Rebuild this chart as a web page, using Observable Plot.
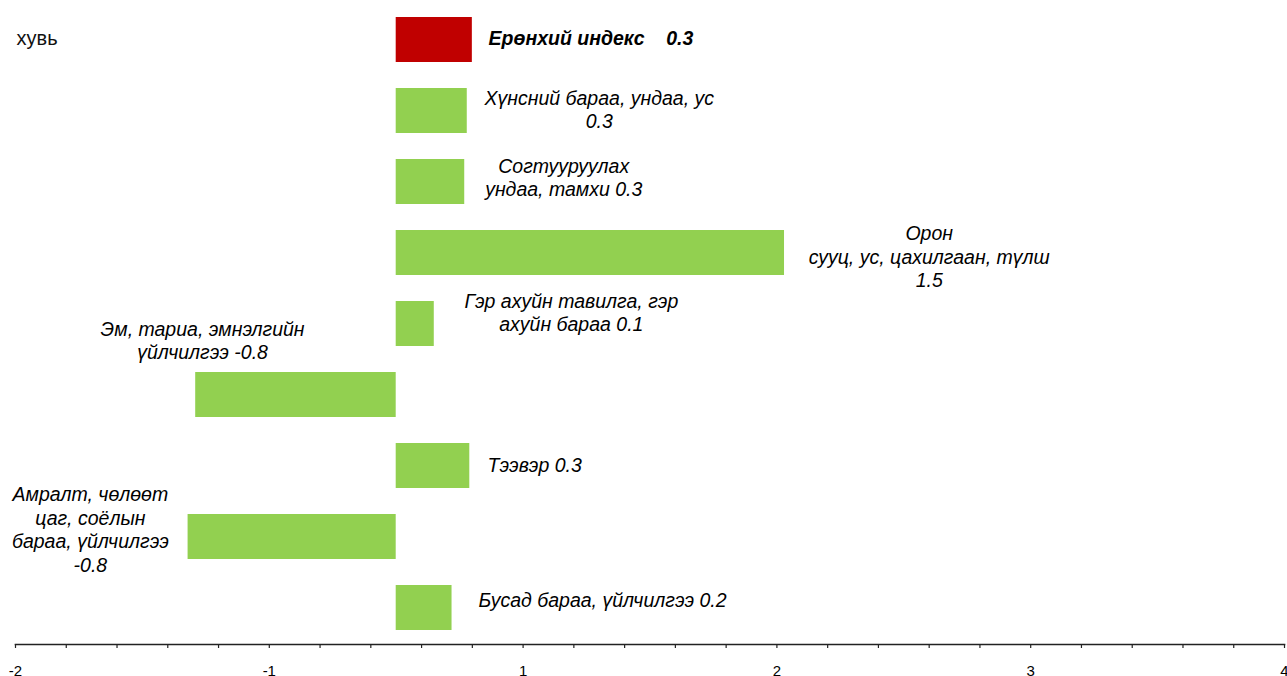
<!DOCTYPE html>
<html>
<head>
<meta charset="utf-8">
<script src="https://cdn.jsdelivr.net/npm/d3@7"></script>
<script src="https://cdn.jsdelivr.net/npm/@observablehq/plot@0.6"></script>
<style>
  html, body { margin: 0; padding: 0; background: #fff; overflow: hidden; }
</style>
</head>
<body>
<div id="chart"></div>
<script>
// ---- data ----
const categories = [
  "Ерөнхий индекс",
  "Хүнсний бараа, ундаа, ус",
  "Согтууруулах ундаа, тамхи",
  "Орон сууц, ус, цахилгаан, түлш",
  "Гэр ахуйн тавилга, гэр ахуйн бараа",
  "Эм, тариа, эмнэлгийн үйлчилгээ",
  "Тээвэр",
  "Амралт, чөлөөт цаг, соёлын бараа, үйлчилгээ",
  "Бусад бараа, үйлчилгээ"
];
const values = [0.30, 0.28, 0.27, 1.53, 0.15, -0.79, 0.29, -0.82, 0.22];
const valueLabels = ["0.3", "0.3", "0.3", "1.5", "0.1", "-0.8", "0.3", "-0.8", "0.2"];
// label text as wrapped in the chart
const labelTexts = [
  "Ерөнхий индекс\u00a0\u00a0\u00a0\u00a00.3",
  "Хүнсний бараа, ундаа, ус\n0.3",
  "Согтууруулах\nундаа, тамхи 0.3",
  "Орон\nсууц, ус, цахилгаан, түлш\n1.5",
  "Гэр ахуйн тавилга, гэр\nахуйн бараа 0.1",
  "Эм, тариа, эмнэлгийн\nүйлчилгээ -0.8",
  "Тээвэр 0.3",
  "Амралт, чөлөөт\nцаг, соёлын\nбараа, үйлчилгээ\n-0.8",
  "Бусад бараа, үйлчилгээ 0.2"
];
const highlight = "Ерөнхий индекс";
const majorTicks = [-1.5, -0.5, 0.5, 1.5, 2.5, 3.5];
const unitLabel = "хувь";

// ---- label placement (data-unit x anchor, pixel y offset, alignment) ----
const labelX = [0.364, 0.80, 0.66, 2.10, 0.69, -0.763, 0.36, -1.205, 0.324];
const labelDy = [-2.5, -2, -5, 3, -12, -55, -1.5, -8, -8.5];
const labelAnchor = ["start", "middle", "middle", "middle", "middle", "middle", "start", "middle", "start"];

const rows = categories.map((c, i) => ({
  category: c, value: values[i], label: labelTexts[i], lx: labelX[i]
}));

const minorTicks = d3.range(0, 26).map(i => +(majorTicks[0] + i * 0.2).toFixed(2));
const roundAway = d => String(Math.sign(d) * Math.round(Math.abs(d)));

const font = "'Liberation Sans', Arial, sans-serif";

const labelMarks = rows.map((r, i) =>
  Plot.text([r], {
    x: "lx", y: "category", text: "label",
    textAnchor: labelAnchor[i], dy: labelDy[i],
    fontSize: 19.5, fontStyle: "italic",
    fontWeight: r.category === highlight ? "bold" : "normal",
    lineHeight: 1.2, fill: "#000"
  })
);

const chart = Plot.plot({
  width: 1287,
  height: 676,
  marginTop: 2,
  marginBottom: 32,
  marginLeft: 15,
  marginRight: 3,
  x: { domain: [-1.5, 3.5], axis: null },
  y: { domain: categories, axis: null, paddingInner: 0.37, paddingOuter: 0.18 },
  style: { fontFamily: font, background: "#fff", color: "#000" },
  marks: [
    Plot.barX(rows, {
      x: "value", y: "category",
      fill: d => d.category === highlight ? "#C00000" : "#92D050"
    }),
    Plot.frame({ anchor: "bottom", stroke: "#222", strokeWidth: 1.6 }),
    Plot.axisX(minorTicks, { anchor: "bottom", tickSize: 4, tickFormat: () => "", stroke: "#222", strokeWidth: 1.2 }),
    Plot.axisX(majorTicks, { anchor: "bottom", tickSize: 0, tickPadding: 21, tickFormat: roundAway, fontSize: 15, fill: "#000" }),
    ...labelMarks,
    Plot.text([unitLabel], { frameAnchor: "top-left", dx: 1, dy: 28, textAnchor: "start", fontSize: 20, fill: "#111" })
  ]
});

document.getElementById("chart").appendChild(chart);
</script>
</body>
</html>
